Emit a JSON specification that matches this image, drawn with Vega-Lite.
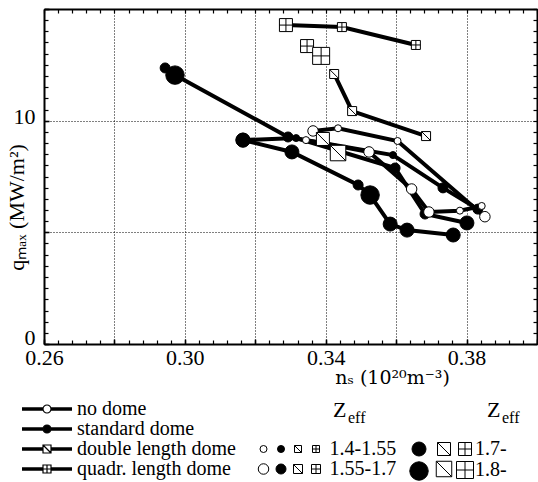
{
  "$schema": "https://vega.github.io/schema/vega-lite/v6.json",
  "width": 493,
  "height": 335,
  "autosize": {"type": "none"},
  "padding": {"left": 44, "top": 9, "right": 1, "bottom": 138},
  "background": "white",
  "config": {
    "view": {"stroke": null},
    "font": "Liberation Serif",
    "legend": {"labelColor": "black", "titleColor": "black", "labelLimit": 400},
    "axis": {"labelColor": "black", "titleColor": "black"}
  },
  "data": {
    "values": [
      {"dome": "quadr. length dome", "scan": "Q1", "ns": 0.3287, "qmax": 14.28, "zeff": "1.7-"},
      {"dome": "quadr. length dome", "scan": "Q1", "ns": 0.3446, "qmax": 14.19, "zeff": "1.55-1.7"},
      {"dome": "quadr. length dome", "scan": "Q1", "ns": 0.3656, "qmax": 13.39, "zeff": "1.55-1.7"},
      {"dome": "quadr. length dome", "scan": "Q2", "ns": 0.3347, "qmax": 13.34, "zeff": "1.7-"},
      {"dome": "quadr. length dome", "scan": "Q2", "ns": 0.3387, "qmax": 12.90, "zeff": "1.8-"},
      {"dome": "double length dome", "scan": "D1", "ns": 0.3424, "qmax": 12.09, "zeff": "1.55-1.7"},
      {"dome": "double length dome", "scan": "D1", "ns": 0.3475, "qmax": 10.43, "zeff": "1.55-1.7"},
      {"dome": "double length dome", "scan": "D1", "ns": 0.3685, "qmax": 9.31, "zeff": "1.55-1.7"},
      {"dome": "double length dome", "scan": "D2", "ns": 0.3392, "qmax": 9.18, "zeff": "1.7-"},
      {"dome": "double length dome", "scan": "D2", "ns": 0.3435, "qmax": 8.55, "zeff": "1.8-"},
      {"dome": "no dome", "scan": "O1", "ns": 0.3364, "qmax": 9.54, "zeff": "1.55-1.7"},
      {"dome": "no dome", "scan": "O1", "ns": 0.3435, "qmax": 9.66, "zeff": "1.4-1.55"},
      {"dome": "no dome", "scan": "O1", "ns": 0.3604, "qmax": 9.09, "zeff": "1.4-1.55"},
      {"dome": "no dome", "scan": "O1", "ns": 0.3852, "qmax": 5.70, "zeff": "1.55-1.7"},
      {"dome": "no dome", "scan": "O2", "ns": 0.3344, "qmax": 9.13, "zeff": "1.4-1.55"},
      {"dome": "no dome", "scan": "O2", "ns": 0.3523, "qmax": 8.60, "zeff": "1.55-1.7"},
      {"dome": "no dome", "scan": "O2", "ns": 0.3644, "qmax": 6.94, "zeff": "1.55-1.7"},
      {"dome": "no dome", "scan": "O2", "ns": 0.3693, "qmax": 5.91, "zeff": "1.55-1.7"},
      {"dome": "no dome", "scan": "O2", "ns": 0.3781, "qmax": 5.97, "zeff": "1.4-1.55"},
      {"dome": "no dome", "scan": "O2", "ns": 0.3843, "qmax": 6.18, "zeff": "1.4-1.55"},
      {"dome": "standard dome", "scan": "S1", "ns": 0.2944, "qmax": 12.36, "zeff": "1.55-1.7"},
      {"dome": "standard dome", "scan": "S1", "ns": 0.2972, "qmax": 12.04, "zeff": "1.8-"},
      {"dome": "standard dome", "scan": "S1", "ns": 0.3293, "qmax": 9.27, "zeff": "1.55-1.7"},
      {"dome": "standard dome", "scan": "S1", "ns": 0.3591, "qmax": 8.46, "zeff": "1.4-1.55"},
      {"dome": "standard dome", "scan": "S1", "ns": 0.3733, "qmax": 6.99, "zeff": "1.55-1.7"},
      {"dome": "standard dome", "scan": "S1", "ns": 0.3832, "qmax": 6.04, "zeff": "1.55-1.7"},
      {"dome": "standard dome", "scan": "S2", "ns": 0.3165, "qmax": 9.13, "zeff": "1.7-"},
      {"dome": "standard dome", "scan": "S2", "ns": 0.3316, "qmax": 9.22, "zeff": "1.4-1.55"},
      {"dome": "standard dome", "scan": "S2", "ns": 0.3597, "qmax": 7.88, "zeff": "1.55-1.7"},
      {"dome": "standard dome", "scan": "S2", "ns": 0.3682, "qmax": 5.82, "zeff": "1.55-1.7"},
      {"dome": "standard dome", "scan": "S2", "ns": 0.3801, "qmax": 5.42, "zeff": "1.7-"},
      {"dome": "standard dome", "scan": "S3", "ns": 0.3165, "qmax": 9.13, "zeff": "1.7-"},
      {"dome": "standard dome", "scan": "S3", "ns": 0.3304, "qmax": 8.60, "zeff": "1.7-"},
      {"dome": "standard dome", "scan": "S3", "ns": 0.3492, "qmax": 7.12, "zeff": "1.55-1.7"},
      {"dome": "standard dome", "scan": "S3", "ns": 0.3526, "qmax": 6.67, "zeff": "1.8-"},
      {"dome": "standard dome", "scan": "S3", "ns": 0.3583, "qmax": 5.37, "zeff": "1.7-"},
      {"dome": "standard dome", "scan": "S3", "ns": 0.3631, "qmax": 5.10, "zeff": "1.7-"},
      {"dome": "standard dome", "scan": "S3", "ns": 0.3762, "qmax": 4.88, "zeff": "1.7-"}
    ]
  },
  "resolve": {
    "scale": {"size": "independent"},
    "axis": {"x": "independent", "y": "independent"}
  },
  "layer": [
    {
      "mark": {"type": "line", "strokeWidth": 4, "color": "black"},
      "encoding": {
        "x": {
          "field": "ns", "type": "quantitative",
          "scale": {"domain": [0.26, 0.4], "nice": false, "zero": false},
          "axis": {
            "orient": "bottom",
            "values": [0.26, 0.28, 0.30, 0.32, 0.34, 0.36, 0.38, 0.40],
            "grid": true, "gridDash": [1, 2], "gridColor": "black", "gridWidth": 1, "gridOpacity": 1,
            "ticks": true, "tickSize": -5, "tickColor": "black", "tickWidth": 1.5,
            "domain": true, "domainColor": "black", "domainWidth": 2,
            "labelExpr": "(abs(datum.value-0.26)<0.001 || abs(datum.value-0.30)<0.001 || abs(datum.value-0.34)<0.001 || abs(datum.value-0.38)<0.001) ? format(datum.value, '.2f') : ''",
            "labelFont": "Liberation Serif", "labelFontSize": 22, "labelPadding": 8,
            "labelFlush": false, "labelOverlap": false,
            "title": "nₛ (10²⁰m⁻³)", "titleFont": "DejaVu Serif", "titleFontSize": 19,
            "titleFontWeight": "normal", "titleX": 348, "titleY": 39, "titleBaseline": "alphabetic"
          }
        },
        "y": {
          "field": "qmax", "type": "quantitative",
          "scale": {"domain": [0, 15], "nice": false, "zero": false},
          "axis": {
            "orient": "left",
            "values": [0, 5, 10, 15],
            "grid": true, "gridDash": [1, 2], "gridColor": "black", "gridWidth": 1, "gridOpacity": 1,
            "ticks": true, "tickSize": -5, "tickColor": "black", "tickWidth": 1.5,
            "domain": true, "domainColor": "black", "domainWidth": 2,
            "labelExpr": "(datum.value == 0 || datum.value == 10) ? datum.label : ''",
            "labelFont": "Liberation Serif", "labelFontSize": 22, "labelPadding": 14,
            "labelOffset": {"condition": {"test": "datum.value == 0", "value": -7}, "value": -4},
            "labelFlush": false, "labelOverlap": false,
            "title": "qₘₐₓ (MW/m²)", "titleFont": "Liberation Serif", "titleFontSize": 22,
            "titleFontWeight": "normal", "titleX": -21, "titleY": 198, "titleAngle": -90,
            "titleBaseline": "alphabetic"
          }
        },
        "detail": {"field": "scan"},
        "stroke": {
          "field": "dome", "type": "nominal",
          "sort": ["no dome", "standard dome", "double length dome", "quadr. length dome"],
          "scale": {"range": ["black", "black", "black", "black"]},
          "legend": {
            "orient": "none", "legendX": -7, "legendY": 390, "title": null,
            "symbolSize": 4, "symbolStrokeWidth": 1.2,
            "labelFont": "Liberation Serif", "labelFontSize": 20, "labelOffset": 20, "labelLimit": 400,
            "rowPadding": 0, "padding": 0,
            "encode": {
              "symbols": {
                "update": {
                  "shape": {"signal": "datum.value == 'double length dome' ? 'M-25,-1.2H-4M-25,0H-4M-25,1.2H-4M4,-1.2H25M4,0H25M4,1.2H25M-4,-4H4V4H-4ZM-4,-4L4,4' : datum.value == 'quadr. length dome' ? 'M-25,-1.2H-4M-25,0H-4M-25,1.2H-4M4,-1.2H25M4,0H25M4,1.2H25M-4,-4H4V4H-4ZM0,-4V4M-4,0H4' : 'M-25,-1.2H-4M-25,0H-4M-25,1.2H-4M4,-1.2H25M4,0H25M4,1.2H25M4,0A4,4 0 1,1 -4,0A4,4 0 1,1 4,0Z'"},
                  "fill": {"signal": "datum.value == 'standard dome' ? 'black' : 'white'"},
                  "stroke": {"value": "black"},
                  "strokeWidth": {"value": 1.2},
                  "size": {"value": 4},
                  "opacity": {"value": 1}
                }
              }
            }
          }
        }
      }
    },
    {
      "transform": [{"filter": "datum.dome == 'standard dome' && (datum.zeff == '1.4-1.55' || datum.zeff == '1.55-1.7')"}],
      "mark": {"type": "point", "opacity": 1, "stroke": "black", "strokeWidth": 1},
      "encoding": {
        "x": {
          "field": "ns", "type": "quantitative",
          "scale": {"domain": [0.26, 0.4], "nice": false, "zero": false},
          "axis": {
            "orient": "top",
            "values": [0.26, 0.264, 0.268, 0.272, 0.276, 0.28, 0.284, 0.288, 0.292, 0.296, 0.30, 0.304, 0.308, 0.312, 0.316, 0.32, 0.324, 0.328, 0.332, 0.336, 0.34, 0.344, 0.348, 0.352, 0.356, 0.36, 0.364, 0.368, 0.372, 0.376, 0.38, 0.384, 0.388, 0.392, 0.396, 0.40],
            "grid": false, "labels": false, "title": null,
            "ticks": true, "tickSize": -4, "tickColor": "black", "tickWidth": 1.2,
            "domain": true, "domainColor": "black", "domainWidth": 2
          }
        },
        "y": {
          "field": "qmax", "type": "quantitative",
          "scale": {"domain": [0, 15], "nice": false, "zero": false},
          "axis": {
            "orient": "right",
            "values": [0, 0.5, 1, 1.5, 2, 2.5, 3, 3.5, 4, 4.5, 5, 5.5, 6, 6.5, 7, 7.5, 8, 8.5, 9, 9.5, 10, 10.5, 11, 11.5, 12, 12.5, 13, 13.5, 14, 14.5, 15],
            "grid": false, "labels": false, "title": null,
            "ticks": true, "tickSize": -4, "tickColor": "black", "tickWidth": 1.2,
            "domain": true, "domainColor": "black", "domainWidth": 2
          }
        },
        "shape": {"field": "dome", "type": "nominal", "scale": {"domain": ["no dome", "standard dome", "double length dome", "quadr. length dome"], "range": ["circle", "circle", "M-1,-1H1V1H-1Z M-1,-1L1,1", "M-1,-1H1V1H-1Z M0,-1V1 M-1,0H1"]}, "legend": null},
        "fill": {"field": "dome", "type": "nominal", "scale": {"domain": ["no dome", "standard dome", "double length dome", "quadr. length dome"], "range": ["white", "black", "white", "white"]}, "legend": null},
        "size": {
          "field": "zeff", "type": "ordinal",
          "scale": {"type": "ordinal", "domain": ["1.4-1.55", "1.55-1.7"], "range": [49, 100]},
          "legend": {
            "orient": "none", "legendX": 227, "legendY": 391, "columns": 1,
            "rowPadding": 0, "padding": 0,
            "symbolType": "circle", "symbolFillColor": "black", "symbolStrokeColor": "black", "symbolStrokeWidth": 1, "symbolOpacity": 1,
            "labelFont": "Liberation Serif", "labelFontSize": 20, "labelOffset": 3.5, "labelExpr": "' '",
            "title": "eff", "titleFont": "Liberation Serif", "titleFontSize": 16, "titleFontWeight": "normal", "titlePadding": 23,
            "encode": {"title": {"update": {"dx": {"value": 77}, "dy": {"value": 10}}}}
          }
        }
      }
    },
    {
      "transform": [{"filter": "datum.dome == 'standard dome' && (datum.zeff == '1.7-' || datum.zeff == '1.8-')"}],
      "mark": {"type": "point", "opacity": 1, "stroke": "black", "strokeWidth": 1},
      "encoding": {
        "x": {"field": "ns", "type": "quantitative", "scale": {"domain": [0.26, 0.4], "nice": false, "zero": false}, "axis": null},
        "y": {"field": "qmax", "type": "quantitative", "scale": {"domain": [0, 15], "nice": false, "zero": false}, "axis": null},
        "shape": {"field": "dome", "type": "nominal", "scale": {"domain": ["no dome", "standard dome", "double length dome", "quadr. length dome"], "range": ["circle", "circle", "M-1,-1H1V1H-1Z M-1,-1L1,1", "M-1,-1H1V1H-1Z M0,-1V1 M-1,0H1"]}, "legend": null},
        "fill": {"field": "dome", "type": "nominal", "scale": {"domain": ["no dome", "standard dome", "double length dome", "quadr. length dome"], "range": ["white", "black", "white", "white"]}, "legend": null},
        "size": {
          "field": "zeff", "type": "ordinal",
          "scale": {"type": "ordinal", "domain": ["1.7-", "1.8-"], "range": [196, 340]},
          "legend": {
            "orient": "none", "legendX": 365, "legendY": 430, "columns": 1,
            "rowPadding": 0, "padding": 0, "title": null,
            "symbolType": "circle", "symbolFillColor": "black", "symbolStrokeColor": "black", "symbolStrokeWidth": 1, "symbolOpacity": 1,
            "labelFont": "Liberation Serif", "labelFontSize": 20, "labelOffset": 3.5, "labelExpr": "' '"
          }
        }
      }
    },
    {
      "transform": [{"filter": "datum.dome == 'no dome'"}],
      "mark": {"type": "point", "opacity": 1, "stroke": "black", "strokeWidth": 1},
      "encoding": {
        "x": {
          "field": "ns", "type": "quantitative",
          "scale": {"domain": [0.26, 0.4], "nice": false, "zero": false},
          "axis": {
            "orient": "bottom",
            "values": [0.26, 0.264, 0.268, 0.272, 0.276, 0.28, 0.284, 0.288, 0.292, 0.296, 0.30, 0.304, 0.308, 0.312, 0.316, 0.32, 0.324, 0.328, 0.332, 0.336, 0.34, 0.344, 0.348, 0.352, 0.356, 0.36, 0.364, 0.368, 0.372, 0.376, 0.38, 0.384, 0.388, 0.392, 0.396, 0.40],
            "grid": false, "labels": false, "title": null, "domain": false,
            "ticks": true, "tickSize": -4, "tickColor": "black", "tickWidth": 1.2
          }
        },
        "y": {
          "field": "qmax", "type": "quantitative",
          "scale": {"domain": [0, 15], "nice": false, "zero": false},
          "axis": {
            "orient": "left",
            "values": [0, 0.5, 1, 1.5, 2, 2.5, 3, 3.5, 4, 4.5, 5, 5.5, 6, 6.5, 7, 7.5, 8, 8.5, 9, 9.5, 10, 10.5, 11, 11.5, 12, 12.5, 13, 13.5, 14, 14.5, 15],
            "grid": false, "labels": false, "title": null, "domain": false,
            "ticks": true, "tickSize": -4, "tickColor": "black", "tickWidth": 1.2
          }
        },
        "shape": {"field": "dome", "type": "nominal", "scale": {"domain": ["no dome", "standard dome", "double length dome", "quadr. length dome"], "range": ["circle", "circle", "M-1,-1H1V1H-1Z M-1,-1L1,1", "M-1,-1H1V1H-1Z M0,-1V1 M-1,0H1"]}, "legend": null},
        "fill": {"field": "dome", "type": "nominal", "scale": {"domain": ["no dome", "standard dome", "double length dome", "quadr. length dome"], "range": ["white", "black", "white", "white"]}, "legend": null},
        "size": {
          "field": "zeff", "type": "ordinal",
          "scale": {"type": "ordinal", "domain": ["1.4-1.55", "1.55-1.7"], "range": [49, 110]},
          "legend": {
            "orient": "none", "legendX": 209.5, "legendY": 391, "columns": 1,
            "rowPadding": 0, "padding": 0,
            "symbolType": "circle", "symbolFillColor": "white", "symbolStrokeColor": "black", "symbolStrokeWidth": 1, "symbolOpacity": 1,
            "labelFont": "Liberation Serif", "labelFontSize": 20, "labelOffset": 3.5, "labelExpr": "' '",
            "title": "Z", "titleFont": "Liberation Serif", "titleFontSize": 22, "titleFontWeight": "normal", "titlePadding": 17,
            "encode": {"title": {"update": {"dx": {"value": 79.5}}}}
          }
        }
      }
    },
    {
      "transform": [{"filter": "datum.dome == 'double length dome' && (datum.zeff == '1.4-1.55' || datum.zeff == '1.55-1.7')"}],
      "mark": {"type": "point", "opacity": 1, "stroke": "black", "strokeWidth": 1},
      "encoding": {
        "x": {"field": "ns", "type": "quantitative", "scale": {"domain": [0.26, 0.4], "nice": false, "zero": false}, "axis": null},
        "y": {"field": "qmax", "type": "quantitative", "scale": {"domain": [0, 15], "nice": false, "zero": false}, "axis": null},
        "shape": {"field": "dome", "type": "nominal", "scale": {"domain": ["no dome", "standard dome", "double length dome", "quadr. length dome"], "range": ["circle", "circle", "M-1,-1H1V1H-1Z M-1,-1L1,1", "M-1,-1H1V1H-1Z M0,-1V1 M-1,0H1"]}, "legend": null},
        "fill": {"field": "dome", "type": "nominal", "scale": {"domain": ["no dome", "standard dome", "double length dome", "quadr. length dome"], "range": ["white", "black", "white", "white"]}, "legend": null},
        "size": {
          "field": "zeff", "type": "ordinal",
          "scale": {"type": "ordinal", "domain": ["1.4-1.55", "1.55-1.7"], "range": [49, 81]},
          "legend": {
            "orient": "none", "legendX": 244, "legendY": 430, "columns": 1,
            "rowPadding": 0, "padding": 0, "title": null,
            "symbolType": "M-1,-1H1V1H-1Z M-1,-1L1,1", "symbolFillColor": "white", "symbolStrokeColor": "black", "symbolStrokeWidth": 1, "symbolOpacity": 1,
            "labelFont": "Liberation Serif", "labelFontSize": 20, "labelOffset": 3.5, "labelExpr": "' '"
          }
        }
      }
    },
    {
      "transform": [{"filter": "datum.dome == 'double length dome' && (datum.zeff == '1.7-' || datum.zeff == '1.8-')"}],
      "mark": {"type": "point", "opacity": 1, "stroke": "black", "strokeWidth": 1},
      "encoding": {
        "x": {"field": "ns", "type": "quantitative", "scale": {"domain": [0.26, 0.4], "nice": false, "zero": false}, "axis": null},
        "y": {"field": "qmax", "type": "quantitative", "scale": {"domain": [0, 15], "nice": false, "zero": false}, "axis": null},
        "shape": {"field": "dome", "type": "nominal", "scale": {"domain": ["no dome", "standard dome", "double length dome", "quadr. length dome"], "range": ["circle", "circle", "M-1,-1H1V1H-1Z M-1,-1L1,1", "M-1,-1H1V1H-1Z M0,-1V1 M-1,0H1"]}, "legend": null},
        "fill": {"field": "dome", "type": "nominal", "scale": {"domain": ["no dome", "standard dome", "double length dome", "quadr. length dome"], "range": ["white", "black", "white", "white"]}, "legend": null},
        "size": {
          "field": "zeff", "type": "ordinal",
          "scale": {"type": "ordinal", "domain": ["1.7-", "1.8-"], "range": [169, 240]},
          "legend": {
            "orient": "none", "legendX": 390, "legendY": 391, "columns": 1,
            "rowPadding": 0, "padding": 0,
            "symbolType": "M-1,-1H1V1H-1Z M-1,-1L1,1", "symbolFillColor": "white", "symbolStrokeColor": "black", "symbolStrokeWidth": 1, "symbolOpacity": 1,
            "labelFont": "Liberation Serif", "labelFontSize": 20, "labelOffset": 3.5, "labelExpr": "' '",
            "title": "Z", "titleFont": "Liberation Serif", "titleFontSize": 22, "titleFontWeight": "normal", "titlePadding": 17,
            "encode": {"title": {"update": {"dx": {"value": 53}}}}
          }
        }
      }
    },
    {
      "transform": [{"filter": "datum.dome == 'quadr. length dome' && (datum.zeff == '1.4-1.55' || datum.zeff == '1.55-1.7')"}],
      "mark": {"type": "point", "opacity": 1, "stroke": "black", "strokeWidth": 1},
      "encoding": {
        "x": {"field": "ns", "type": "quantitative", "scale": {"domain": [0.26, 0.4], "nice": false, "zero": false}, "axis": null},
        "y": {"field": "qmax", "type": "quantitative", "scale": {"domain": [0, 15], "nice": false, "zero": false}, "axis": null},
        "shape": {"field": "dome", "type": "nominal", "scale": {"domain": ["no dome", "standard dome", "double length dome", "quadr. length dome"], "range": ["circle", "circle", "M-1,-1H1V1H-1Z M-1,-1L1,1", "M-1,-1H1V1H-1Z M0,-1V1 M-1,0H1"]}, "legend": null},
        "fill": {"field": "dome", "type": "nominal", "scale": {"domain": ["no dome", "standard dome", "double length dome", "quadr. length dome"], "range": ["white", "black", "white", "white"]}, "legend": null},
        "size": {
          "field": "zeff", "type": "ordinal",
          "scale": {"type": "ordinal", "domain": ["1.4-1.55", "1.55-1.7"], "range": [49, 81]},
          "legend": {
            "orient": "none", "legendX": 262, "legendY": 430, "columns": 1,
            "rowPadding": 0, "padding": 0, "title": null,
            "symbolType": "M-1,-1H1V1H-1Z M0,-1V1 M-1,0H1", "symbolFillColor": "white", "symbolStrokeColor": "black", "symbolStrokeWidth": 1, "symbolOpacity": 1,
            "labelFont": "Liberation Serif", "labelFontSize": 20, "labelOffset": 3.5
          }
        }
      }
    },
    {
      "transform": [{"filter": "datum.dome == 'quadr. length dome' && (datum.zeff == '1.7-' || datum.zeff == '1.8-')"}],
      "mark": {"type": "point", "opacity": 1, "stroke": "black", "strokeWidth": 1},
      "encoding": {
        "x": {"field": "ns", "type": "quantitative", "scale": {"domain": [0.26, 0.4], "nice": false, "zero": false}, "axis": null},
        "y": {"field": "qmax", "type": "quantitative", "scale": {"domain": [0, 15], "nice": false, "zero": false}, "axis": null},
        "shape": {"field": "dome", "type": "nominal", "scale": {"domain": ["no dome", "standard dome", "double length dome", "quadr. length dome"], "range": ["circle", "circle", "M-1,-1H1V1H-1Z M-1,-1L1,1", "M-1,-1H1V1H-1Z M0,-1V1 M-1,0H1"]}, "legend": null},
        "fill": {"field": "dome", "type": "nominal", "scale": {"domain": ["no dome", "standard dome", "double length dome", "quadr. length dome"], "range": ["white", "black", "white", "white"]}, "legend": null},
        "size": {
          "field": "zeff", "type": "ordinal",
          "scale": {"type": "ordinal", "domain": ["1.7-", "1.8-"], "range": [169, 289]},
          "legend": {
            "orient": "none", "legendX": 411, "legendY": 391, "columns": 1,
            "rowPadding": 0, "padding": 0,
            "symbolType": "M-1,-1H1V1H-1Z M0,-1V1 M-1,0H1", "symbolFillColor": "white", "symbolStrokeColor": "black", "symbolStrokeWidth": 1, "symbolOpacity": 1,
            "labelFont": "Liberation Serif", "labelFontSize": 20, "labelOffset": 0,
            "title": "eff", "titleFont": "Liberation Serif", "titleFontSize": 16, "titleFontWeight": "normal", "titlePadding": 23,
            "encode": {"title": {"update": {"dx": {"value": 47}, "dy": {"value": 10}}}}
          }
        }
      }
    }
  ]
}
